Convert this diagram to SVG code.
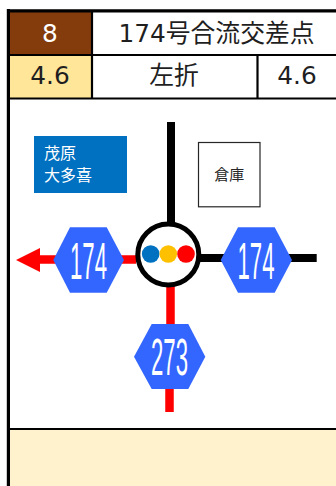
<svg xmlns="http://www.w3.org/2000/svg" width="336" height="486" viewBox="0 0 336 486">
<style>
.t{font-family:"DejaVu Sans","Noto Sans CJK JP",sans-serif;text-anchor:middle}
.h{font-size:24.800px;fill:#1f1f1f}
.c{font-family:"Noto Sans CJK JP",sans-serif}
.n{font-family:"Liberation Sans",sans-serif;fill:#fff;font-size:51px}
.hex{fill:#3366ff}
</style>
<rect width="336" height="486" fill="#fff"/>
<g id="header">
<rect x="10" y="12" width="81" height="42" fill="#843c0c"/>
<rect x="10" y="56" width="81" height="42" fill="#ffe699"/>
<rect x="9" y="429" width="327" height="57" fill="#fff2cc"/>
<path d="M7 10.800H336M8.400 9V486" fill="none" stroke="#000" stroke-width="3.200"/>
<path d="M8 55H336M8 98.500H336M92 10V98M257.500 55V98M8 429H336" fill="none" stroke="#000" stroke-width="2.200"/>
<text class="t h" x="50" y="42" style="fill:#fff">8</text>
<text class="t h" x="216.500" y="42">174号合流交差点</text>
<text class="t h" x="50" y="84">4.6</text>
<text class="t h c" x="174" y="84">左折</text>
<text class="t h" x="297" y="84">4.6</text>
</g>
<g id="connectors">
<path d="M171 122V225M200 258H316.700" fill="none" stroke="#000" stroke-width="8"/>
<path d="M170.500 283V325M169.500 389V412M136 259.500H35" fill="none" stroke="#f00" stroke-width="8.500"/>
<path d="M16 260L40 248V272Z" fill="#f00"/>
</g>
<g id="dest"><rect x="34" y="136" width="93" height="57" fill="#0070c0"/>
<text class="c" x="44" y="159" font-size="16" fill="#fff">茂原</text>
<text class="c" x="44" y="181" font-size="16" fill="#fff">大多喜</text></g>
<g id="warehouse"><rect x="198.500" y="142.500" width="61.500" height="64.300" fill="#fff" stroke="#262626" stroke-width="1.200"/>
<text class="c" x="229.300" y="180" font-size="15" fill="#262626" text-anchor="middle">倉庫</text></g>
<g id="junction"><circle cx="168.300" cy="254.500" r="30.500" fill="#fff" stroke="#000" stroke-width="5"/>
<circle cx="150.700" cy="254" r="8.800" fill="#0070c0"/><circle cx="168.300" cy="254" r="8.800" fill="#ffc000"/><circle cx="186" cy="254" r="8.800" fill="#f00"/></g>
<g id="r174w"><polygon class="hex" points="53.300,260 70,227.300 106.700,227.300 124,260 106.700,292.700 70,292.700"/><text class="n" x="70" y="279" textLength="37" lengthAdjust="spacingAndGlyphs">174</text></g>
<g id="r174e"><polygon class="hex" points="220.700,260 238,227.300 274.700,227.300 292,260 274.700,292.700 238,292.700"/><text class="n" x="237.500" y="279" textLength="37" lengthAdjust="spacingAndGlyphs">174</text></g>
<g id="r273"><polygon class="hex" points="134,356.700 151.700,324 188.300,324 205.300,356.700 188.300,389 151.700,389"/><text class="n" x="151" y="375" textLength="37" lengthAdjust="spacingAndGlyphs">273</text></g>
</svg>
